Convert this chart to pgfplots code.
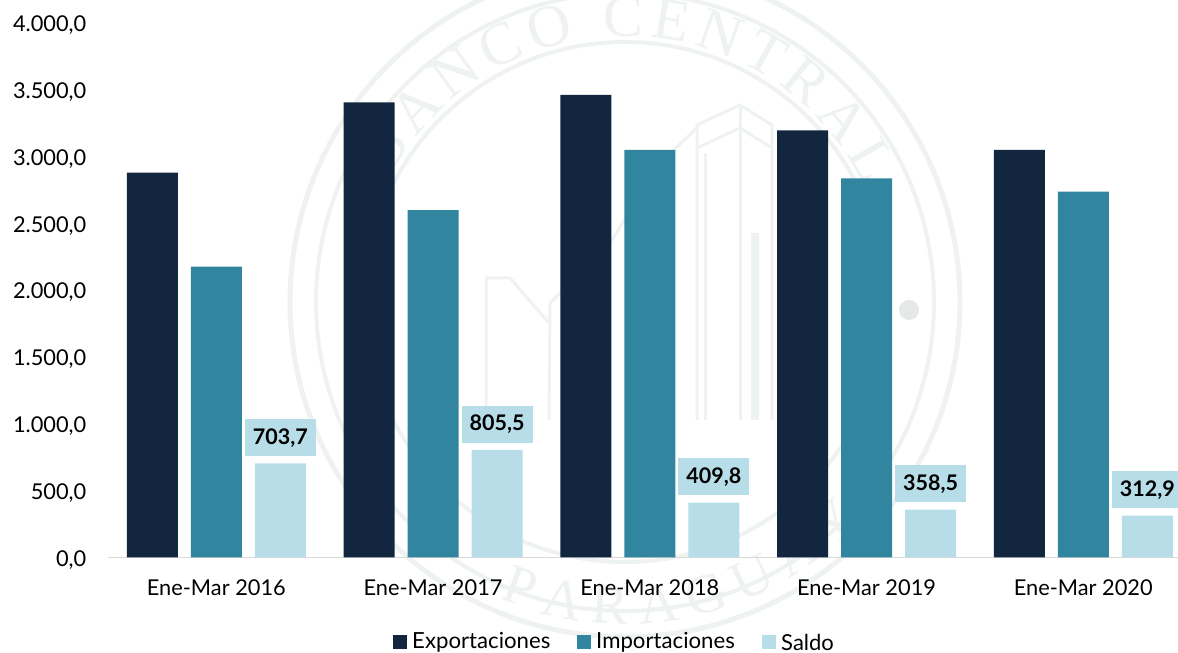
\documentclass[border=0pt]{standalone}
\usepackage{pgfplots}
\pgfplotsset{compat=1.18}
\usepackage{fontspec}
\setmainfont{Lato}
\newfontfamily\wmfont{Liberation Serif}
\usetikzlibrary{decorations.text}
\definecolor{expo}{HTML}{12263F}
\definecolor{impo}{HTML}{31859F}
\definecolor{sal}{HTML}{B7DDE8}
\definecolor{wm}{HTML}{EEF2F1}
\definecolor{wmdot}{HTML}{E4E8E7}
\begin{document}
\begin{tikzpicture}[x=1pt,y=1pt]
\useasboundingbox (0,0) rectangle (1178,653);
% faint watermark
\begin{scope}
\clip (0,0) rectangle (1178,653);
\draw[wm,line width=5pt] (625,351) circle (335);
\draw[wm,line width=4pt] (625,351) circle (309);
\draw[wm,line width=4pt] (625,351) circle (260);
\path[decorate,decoration={text along path,text align=fit to path,
  text={|\wmfont\fontsize{60}{62}\selectfont\color{wm}|BANCO CENTRAL}}]
  (625,351)++(152:266) arc[start angle=152,end angle=26,radius=266];
\path[decorate,decoration={text along path,text align=fit to path,
  text={|\wmfont\fontsize{56}{58}\selectfont\color{wm}|PARAGUAY}}]
  (625,351)++(247:322) arc[start angle=247,end angle=317,radius=322];
\draw[wm,line width=3pt,line join=round] (697,233) -- (697,528) -- (740,548) -- (772,528) -- (772,233);
\draw[wm,line width=3pt] (740,548) -- (740,233);
\draw[wm,line width=3pt] (697,505) -- (740,525) -- (772,505);
\draw[wm,line width=3pt] (705,233) -- (705,500);
\draw[wm,line width=3pt,line join=round] (697,525) -- (660,490) -- (610,410) -- (550,350) -- (549,233);
\draw[wm,line width=3pt,line join=round] (549,330) -- (510,375) -- (486,375) -- (486,233);
\draw[wm,line width=8pt] (755,233) -- (755,420);
\fill[wmdot] (909,343) circle (10);
\end{scope}
\begin{axis}[
  at={(108pt,95.5pt)}, anchor=south west,
  width=1070pt, height=535pt, scale only axis,
  ybar, bar width=51pt, bar shift=0pt,
  xmin=-0.5, xmax=4.437,
  ymin=0, ymax=4000,
  clip=false,
  axis lines=left,
  axis line style={draw=black!15,line width=1.5pt,-},
  y axis line style={draw=none},
  tick style={draw=none},
  xtick={0,1,2,3,4},
  xticklabels={Ene-Mar 2016,Ene-Mar 2017,Ene-Mar 2018,Ene-Mar 2019,Ene-Mar 2020},
  ytick={0,500,1000,1500,2000,2500,3000,3500,4000},
  yticklabels={{0,0},{500,0},{1.000,0},{1.500,0},{2.000,0},{2.500,0},{3.000,0},{3.500,0},{4.000,0}},
  ticklabel style={font=\fontsize{21.8}{26}\selectfont,text=black},
  x tick label style={yshift=-17pt},
  y tick label style={xshift=-16pt,yshift=-2.5pt},
]
\addplot[fill=expo,draw=none,bar shift=-64pt] coordinates {(0,2878) (1,3403) (2,3458) (3,3193) (4,3048)};
\addplot[fill=impo,draw=none,bar shift=0pt] coordinates {(0,2175) (1,2598) (2,3048) (3,2835) (4,2735)};
\addplot[fill=sal,draw=none,bar shift=64pt,
  nodes near coords,
  point meta=explicit symbolic,
  nodes near coords style={fill=sal,text=black,font=\fontsize{21.5}{24}\selectfont\bfseries,inner sep=0pt,minimum width=71pt,minimum height=37pt,anchor=south,yshift=7pt}
] coordinates {(0,703.7)[703,7] (1,805.5)[805,5] (2,409.8)[409,8] (3,358.5)[358,5] (4,312.9)[312,9]};
\end{axis}
\fill[expo] (393,3.5) rectangle (406.5,18);
\node[anchor=west,font=\fontsize{22.2}{26}\selectfont,inner sep=0pt] at (412,11) {Exportaciones};
\fill[impo] (577,3.5) rectangle (591,18);
\node[anchor=west,font=\fontsize{22.2}{26}\selectfont,inner sep=0pt] at (596,11) {Importaciones};
\fill[sal] (762,3.5) rectangle (776,18);
\node[anchor=west,font=\fontsize{22}{26}\selectfont,inner sep=0pt] at (781,11) {Saldo};
\end{tikzpicture}
\end{document}
